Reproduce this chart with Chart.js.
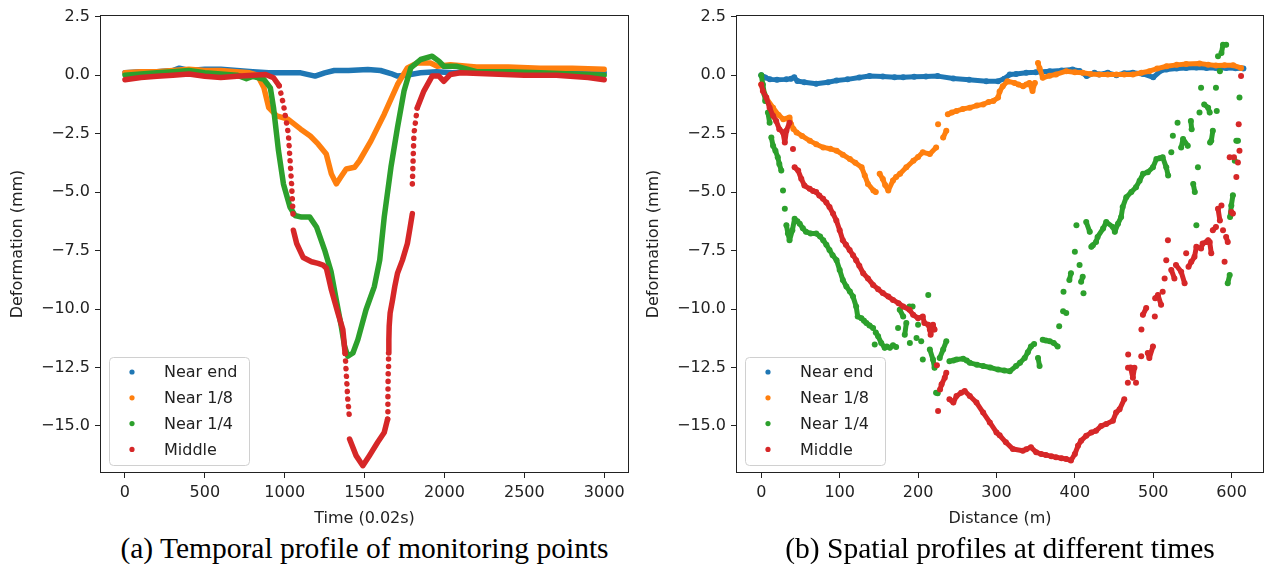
<!DOCTYPE html>
<html><head><meta charset="utf-8">
<script src="https://cdn.jsdelivr.net/npm/chart.js@4.4.1/dist/chart.umd.min.js"></script>
<style>
html,body{margin:0;padding:0;background:#fff;width:1266px;height:564px;overflow:hidden;position:relative;}
#c1{position:absolute;left:0;top:0;}
#c2{position:absolute;left:636px;top:0;}
.cap{position:absolute;top:531px;font-family:"Liberation Serif","Times New Roman",serif;font-size:29.5px;line-height:34px;text-align:center;color:#000;white-space:nowrap;}
</style></head><body>
<canvas id="c1" width="640" height="530"></canvas>
<canvas id="c2" width="630" height="530"></canvas>
<div class="cap" style="left:0;width:729px">(a) Temporal profile of monitoring points</div>
<div class="cap" style="left:737px;width:526px">(b) Spatial profiles at different times</div>
<script>
const seriesNames = ['Near end', 'Near 1/8', 'Near 1/4', 'Middle'];
const seriesColors = ['#1f77b4', '#ff7f0e', '#2ca02c', '#d62728'];
const yTicks = [2.5, 0, -2.5, -5, -7.5, -10, -12.5, -15];
const timeTicks = [0, 500, 1000, 1500, 2000, 2500, 3000];
const distTicks = [0, 100, 200, 300, 400, 500, 600];

// (a) temporal profiles
const tEnd = [0,100,200,300,340,400,500,600,700,800,900,1000,1100,1190,1250,1310,1400,1520,1600,1665,1706,1760,1850,1950,2050,2150,2250,2350,2450,2550,2650,2750,2850,2950,3000];
const vEnd = [0.1,0.15,0.15,0.2,0.3,0.2,0.25,0.25,0.2,0.15,0.1,0.1,0.1,-0.04,0.1,0.2,0.2,0.24,0.2,0.07,-0.04,0.0,0.1,0.15,0.1,0.15,0.1,0.15,0.15,0.1,0.15,0.1,0.1,0.1,0.1];
const tQ8 = [0,100,200,300,400,500,600,700,780,830,870,900,950,1020,1100,1160,1210,1260,1292,1323,1350,1385,1437,1468,1540,1623,1706,1768,1830,1913,1955,2037,2200,2400,2600,2800,3000];
const vQ8 = [0.1,0.15,0.15,0.2,0.25,0.2,0.2,0.15,0.1,0.0,-0.54,-1.39,-1.74,-1.88,-2.31,-2.6,-2.95,-3.37,-4.22,-4.65,-4.37,-4.01,-3.94,-3.66,-2.81,-1.67,-0.4,0.31,0.52,0.52,0.38,0.45,0.35,0.35,0.3,0.3,0.25];
const tQ4 = [0,100,200,300,400,500,600,700,760,800,870,910,930,961,992,1033,1064,1106,1157,1199,1250,1290,1323,1354,1375,1395,1427,1458,1509,1561,1595,1623,1665,1706,1747,1789,1851,1923,1965,1996,2079,2200,2400,2600,2800,3000];
const vQ4 = [0.0,0.05,0.1,0.15,0.2,0.1,0.05,0.0,-0.15,-0.05,-0.18,-0.54,-1.39,-3.23,-4.65,-5.64,-6.0,-6.07,-6.07,-6.49,-7.48,-8.4,-9.61,-10.74,-11.6,-12.02,-11.88,-11.31,-10.03,-9.04,-7.9,-6.07,-3.94,-2.24,-0.68,0.31,0.67,0.81,0.6,0.38,0.38,0.15,0.15,0.1,0.05,0.0];
const tMid = [0,100,200,300,400,500,600,700,800,880,930,965,992,1023,1043,1054,1054,1054,1075,1116,1168,1209,1240,1261,1276,1292,1333,1364,1370,1378,1385,1395,1406,1406,1406,1447,1489,1530,1582,1623,1644,1646,1648,1650,1652,1654,1660,1675,1689,1706,1737,1768,1784,1799,1799,1799,1809,1830,1871,1923,1965,1996,2037,2100,2300,2500,2700,2900,3000];
const vMid = [-0.2,-0.1,-0.05,0.0,0.05,-0.05,-0.1,-0.05,0.0,0.03,-0.11,-0.45,-1.25,-2.52,-4.65,-6.21,null,-6.63,-7.2,-7.8,-7.98,-8.05,-8.12,-8.26,-8.7,-9.18,-10.17,-10.88,-11.3,-11.9,-12.7,-13.86,-14.71,null,-15.56,-16.27,-16.7,-16.27,-15.7,-15.28,-14.71,-13.86,-12.59,-11.88,-11.31,-10.74,-10.17,-9.61,-9.04,-8.47,-7.91,-7.2,-6.55,-5.92,null,-4.65,-2.52,-1.39,-0.68,-0.04,-0.04,-0.26,0.03,0.1,0.05,0.0,0.0,-0.1,-0.2];

// (b) spatial profiles
const dEnd = [0,5,11,20,32,38,42,46,55,70,85,96,110,125,138,155,170,181,195,210,225,245,265,287,302,310,317,325,338,350,368,383,397,406,415,425,431,442,453,463,474,487,500,510,517,530,542,555,568,580,593,605,615];
const sEnd = [0.0,-0.1,-0.18,-0.2,-0.18,-0.15,-0.09,-0.25,-0.3,-0.37,-0.3,-0.23,-0.18,-0.1,-0.04,-0.06,-0.09,-0.09,-0.07,-0.06,-0.04,-0.14,-0.2,-0.26,-0.26,-0.15,0.03,0.05,0.1,0.12,0.17,0.2,0.24,0.18,-0.04,0.1,0.03,0.1,0.0,0.08,0.1,0.05,-0.09,0.2,0.24,0.28,0.31,0.33,0.31,0.31,0.31,0.3,0.28];
const dQ8 = [0,6,15,22,28,33,36,38,41,45,52,62,70,79,88,96,104,113,120,128,132,136,143,146,151,155,158,162,168,172,177,185,194,200,206,215,223,225.5,232,236,238,243,249,257,266,275,283,290,296,302,304,308,314,323,328,334,338,342,346,349,353,355,359,368,376,389,400,410,420,431,442,453,463,474,485,495,505,517,530,542,559,570,580,591,602,612];
const sQ8 = [-0.4,-0.96,-1.39,-1.7,-1.88,-1.85,-1.81,-2.1,-2.3,-2.45,-2.6,-2.81,-2.95,-3.09,-3.15,-3.23,-3.4,-3.59,-3.75,-3.94,-4.29,-4.65,-4.93,-5.0,-4.22,-4.44,-4.7,-4.93,-4.5,-4.35,-4.22,-3.94,-3.66,-3.5,-3.3,-3.37,-3.09,-2.1,-2.67,-2.38,-1.67,-1.6,-1.53,-1.45,-1.39,-1.3,-1.25,-1.15,-1.1,-0.96,-0.7,-0.47,-0.26,-0.33,-0.4,-0.47,-0.4,-0.33,-0.68,-0.33,0.52,0.3,-0.11,-0.02,0.03,0.17,0.12,0.1,0.05,0.03,0.03,0.03,0.03,0.03,0.1,0.17,0.28,0.38,0.44,0.48,0.5,0.45,0.41,0.42,0.42,0.31];
const dQ4 = [0,2,4,5,8.5,10.6,12.8,15,18,21,23,25.5,27.7,30,32,34,36,39.6,42.5,46,49,53,57,63,70,75,79,83,87,91,96,100,104,108.5,113,117,121,123,127.7,131,134,138,142.6,144.7,146,149,153,157.4,160,164,168,172,174.5,176.6,181,183,185,189,189.5,193,198,200,204,206,213,215,219,221,223,225,227.6,232,236,240,245,249,257.5,262,266,275,283,292,302,310,317,325,330,336,340,344,348,353,355,359,363,368,373,378,380,385,385.5,389,393,395,400,402,406,408,410,411,414.5,419,421,423,427,429,436,440,448.5,451,455,459,461,465.6,472,478,482.6,487,493,499.6,504,508,512,516.6,519,523,525,531,535.6,538,544,548,549,551,553,555,557,559,561,565,570,572,572.5,574,576,580,581,582.6,585,587,589,593,595,597.5,598,599.6,601.6,604,606,608,610];
const sQ4 = [0.0,-0.4,-0.82,-1.1,-1.6,-2.03,-2.67,-3.02,-3.23,-3.51,-3.8,-4.08,-4.93,-5.71,-6.42,-6.77,-7.06,-6.63,-6.14,-6.25,-6.35,-6.55,-6.7,-6.77,-6.77,-6.9,-7.06,-7.25,-7.48,-7.7,-7.91,-8.33,-8.76,-9.04,-9.25,-9.47,-9.89,-10.32,-10.39,-10.5,-10.6,-10.7,-10.81,-11.52,-11.0,-11.17,-11.45,-11.66,-11.6,-11.66,-11.55,-11.62,-10.81,-10.03,-10.32,-11.1,-10.6,-9.89,-11.45,-9.89,-11.24,-10.67,-11.38,-12.16,-9.4,-11.73,-12.16,-12.51,-13.58,-13.6,-12.09,-11.73,-11.38,-12.23,-12.2,-12.16,-12.13,-12.2,-12.3,-12.38,-12.44,-12.5,-12.59,-12.63,-12.66,-12.44,-12.3,-12.09,-11.85,-11.6,-11.5,-12.09,-12.44,-11.31,-11.35,-11.38,-11.45,-11.6,-10.74,-10.1,-9.26,-10.17,-8.76,-8.47,-7.55,-6.42,-8.12,-8.83,-8.62,-9.33,-6.28,-6.7,-7.34,-7.27,-7.13,-6.92,-6.56,-6.28,-6.49,-6.7,-6.35,-6.07,-5.64,-5.22,-5.0,-4.79,-4.51,-4.22,-4.15,-3.94,-3.59,-3.55,-3.51,-3.94,-4.29,-3.3,-2.59,-2.03,-3.09,-2.73,-3.02,-1.96,-2.31,-4.65,-5.0,-6.42,-3.94,-1.6,-0.54,-1.25,-1.39,-1.6,-2.88,-2.81,-2.38,-0.54,-1.53,0.81,0.17,0.95,1.3,1.3,-8.9,-8.55,-6.07,-5.57,-5.14,-3.66,-2.81,-2.81,-0.96];
const dMid = [0,2,6.4,10.6,15,19,23,27.7,30,32,36,40.4,42.5,47,51,55,61.7,66,70,74,78.8,83,87,91.5,95.7,100,104,108,112.7,117,121,125,130,136,142.6,149,155,162,168,175,181,189,193.7,200,206,208,213,215,216,219,221,224,225.5,228,230,234,236,240,245,249,255,259.5,266,274.5,283,291.5,300,304,312,321,333.6,338,344,350.7,357,363,370,376,383,389,395,400,404,408,414.5,421,427,433.6,440,448.5,452.6,457,463,467.6,467.8,468,471,474,476,478,484.7,484.9,486.8,491,493,495,499.6,502,502.5,506,510,512,514.5,516.6,518.7,523,527,529,535.6,540,542,545,548.5,552.6,555,561,563,568,570,572,574,576,580,582.6,585,587,589,591,593,595,597.5,599.6,601.6,603,606,608,609,610,612];
const sMid = [-0.4,-0.68,-0.96,-1.39,-1.74,-1.96,-2.31,-2.45,-2.88,-2.38,-2.03,-3.16,-3.94,-4.08,-4.43,-4.72,-4.86,-4.95,-5.0,-5.15,-5.29,-5.45,-5.64,-5.92,-6.21,-6.63,-7.06,-7.25,-7.48,-7.7,-7.91,-8.15,-8.47,-8.69,-8.97,-9.15,-9.32,-9.47,-9.61,-9.75,-9.89,-10.03,-10.25,-10.39,-10.32,-10.6,-10.67,-10.88,-11.1,-10.67,-10.88,-12.4,-14.36,-13.44,-13.22,-12.94,-12.73,-13.86,-14.0,-13.72,-13.58,-13.51,-13.72,-14.0,-14.43,-14.85,-15.28,-15.4,-15.7,-15.99,-16.06,-16.0,-15.91,-16.13,-16.2,-16.24,-16.3,-16.34,-16.38,-16.41,-16.48,-16.2,-15.85,-15.63,-15.42,-15.28,-15.21,-15.0,-14.92,-14.78,-14.43,-14.29,-13.86,-13.15,-12.51,-11.95,-12.5,-12.94,-12.51,-13.15,-12.02,-10.88,-10.25,-9.96,-11.88,-12.1,-11.6,-10.32,-9.54,-9.4,-9.82,-9.26,-8.69,-7.91,-7.06,-8.33,-8.69,-8.12,-8.41,-8.9,-7.62,-8.19,-7.98,-7.77,-7.34,-7.41,-7.2,-7.13,-7.06,-7.13,-7.62,-6.63,-6.49,-5.71,-6.21,-5.57,-6.63,-7.98,-6.92,-7.13,-3.51,-5.85,-5.92,-3.51,-4.36,-3.73,-2.1,-3.23,-0.04];

const pts = (xs, ys) => xs.map((x, i) => ({x: x, y: ys[i]}));
const segLen = c => Math.hypot(c.p1.x - c.p0.x, c.p1.y - c.p0.y);
const isDotted = c => segLen(c) > 16 && Math.abs(c.p1.y - c.p0.y) > 4 * Math.abs(c.p1.x - c.p0.x);
const fmtY = v => (v < 0 ? '\u2212' : '') + Math.abs(v).toFixed(1);
const FONT = 'DejaVu Sans';

const frame = {
  id: 'frame',
  afterDraw(chart) {
    const {ctx, chartArea: a} = chart;
    ctx.save();
    ctx.strokeStyle = '#222';
    ctx.lineWidth = 1;
    ctx.strokeRect(Math.round(a.left) - 0.5, Math.round(a.top) - 0.5, Math.round(a.right - a.left) + 1, Math.round(a.bottom - a.top) + 1);
    ctx.restore();
  }
};
const insideLegend = {
  id: 'insideLegend',
  afterDraw(chart) {
    const {ctx, chartArea: a} = chart;
    const w = 140, h = 108;
    const x0 = a.left + 8, y0 = a.bottom - 7 - h;
    ctx.save();
    ctx.beginPath();
    ctx.roundRect(x0 + 0.5, y0 + 0.5, w, h, 4);
    ctx.fillStyle = 'rgba(255,255,255,0.85)';
    ctx.fill();
    ctx.strokeStyle = '#d0d0d0';
    ctx.lineWidth = 1;
    ctx.stroke();
    ctx.font = '16px "' + FONT + '"';
    ctx.textBaseline = 'middle';
    ctx.textAlign = 'left';
    chart.data.datasets.forEach((ds, i) => {
      const cy = y0 + 15 + i * 25.8;
      ctx.beginPath();
      ctx.arc(x0 + 23, cy, 2.6, 0, Math.PI * 2);
      ctx.fillStyle = ds.borderColor;
      ctx.fill();
      ctx.fillStyle = '#222';
      ctx.fillText(ds.label, x0 + 55, cy + 1);
    });
    ctx.restore();
  }
};

function axisCommon(extra) {
  return Object.assign({
    type: 'linear',
    grid: {display: true, drawOnChartArea: false, drawTicks: true, tickLength: 6, tickColor: '#222', tickWidth: 1},
    border: {display: false}
  }, extra);
}

function makeChart(id, o) {
  return new Chart(document.getElementById(id), {
    type: 'scatter',
    data: {datasets: o.datasets},
    options: {
      responsive: false, animation: false, devicePixelRatio: 1, events: [],
      layout: {padding: {left: 0, right: o.padRight, top: 16, bottom: 0}},
      plugins: {legend: {display: false}, tooltip: {enabled: false}},
      scales: {
        x: axisCommon({
          min: o.xmin, max: o.xmax,
          afterFit(s) { s.height = 58; },
          afterBuildTicks(s) { s.ticks = o.xticks.map(v => ({value: v})); },
          ticks: {font: {family: FONT, size: 16}, color: '#222', padding: 5, maxRotation: 0, autoSkip: false, callback: v => String(v)},
          title: {display: true, text: o.xtitle, font: {family: FONT, size: 16}, color: '#222', padding: {top: 0, bottom: 2}}
        }),
        y: axisCommon({
          min: -16.97, max: 2.53,
          afterFit(s) { s.width = 101; },
          afterBuildTicks(s) { s.ticks = yTicks.map(v => ({value: v})); },
          ticks: {font: {family: FONT, size: 16}, color: '#222', padding: 5, autoSkip: false, callback: v => fmtY(v)},
          title: {display: true, text: 'Deformation (mm)', font: {family: FONT, size: 16}, color: '#222', padding: {top: 8.4, bottom: 0}}
        })
      }
    },
    plugins: [frame, insideLegend]
  });
}

function lineSet(i, data, extra) {
  return Object.assign({
    label: seriesNames[i], data: data, showLine: true, spanGaps: false,
    borderColor: seriesColors[i], backgroundColor: seriesColors[i],
    borderWidth: 5.5, borderCapStyle: 'round', borderJoinStyle: 'round',
    pointRadius: 0, pointHoverRadius: 0, order: 4 - i
  }, extra || {});
}

makeChart('c1', {
  padRight: 12, xmin: -150, xmax: 3149, xticks: timeTicks, xtitle: 'Time (0.02s)',
  datasets: [
    lineSet(0, pts(tEnd, vEnd)),
    lineSet(1, pts(tQ8, vQ8)),
    lineSet(2, pts(tQ4, vQ4)),
    lineSet(3, pts(tMid, vMid), {segment: {borderDash: c => isDotted(c) ? [0.1, 7.5] : undefined}})
  ]
});

function scatterSet(i, data, limit) {
  return lineSet(i, data, {
    borderWidth: 5, pointRadius: 3, pointBorderWidth: 0, pointBackgroundColor: seriesColors[i],
    segment: {borderColor: c => segLen(c) > limit ? 'rgba(0,0,0,0)' : undefined}
  });
}

makeChart('c2', {
  padRight: 3, xmin: -31, xmax: 640, xticks: distTicks, xtitle: 'Distance (m)',
  datasets: [
    scatterSet(0, pts(dEnd, sEnd), 20),
    scatterSet(1, pts(dQ8, sQ8), 14),
    scatterSet(2, pts(dQ4, sQ4), 12),
    scatterSet(3, pts(dMid, sMid), 13)
  ]
});
</script>
</body></html>
